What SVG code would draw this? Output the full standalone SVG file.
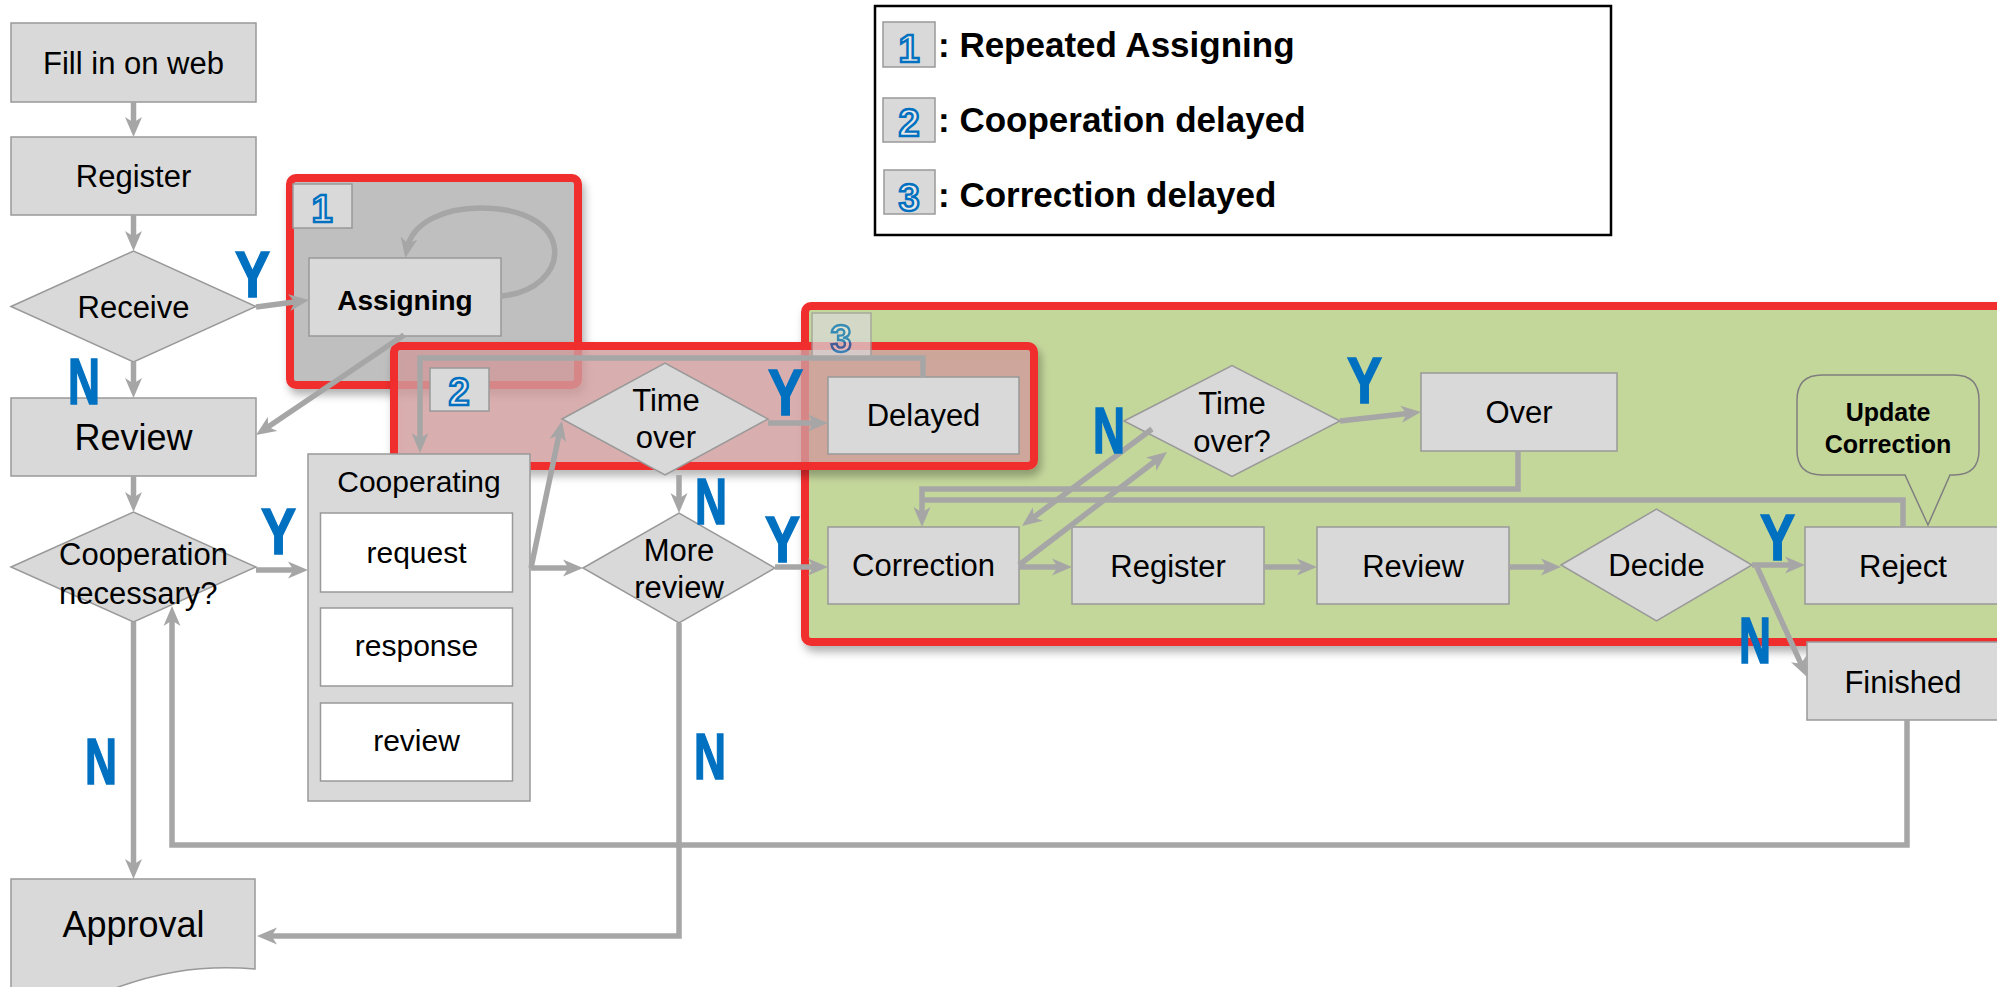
<svg xmlns="http://www.w3.org/2000/svg" width="1997" height="987" viewBox="0 0 1997 987">
<style>
text{font-family:"Liberation Sans",Arial,sans-serif;fill:#000}
.n{fill:#d9d9d9;stroke:#999;stroke-width:1.5}
.w{fill:#fff;stroke:#999;stroke-width:1.5}
.t{font-size:31px;text-anchor:middle}
.big{font-size:36px;text-anchor:middle}
.yn{font-size:65px;font-weight:bold;fill:#0070c0;stroke:#0070c0;stroke-width:1.6}
.bd{fill:#d9d9d9;stroke:#999;stroke-width:1.5}
.dg{font-size:38px;font-weight:bold;fill:#e8e8e8;stroke:#0070c0;stroke-width:2.4;text-anchor:middle}
.red{stroke:#f02d2d;stroke-width:8}
.c{fill:none;stroke:#a6a6a6;stroke-width:5.5;marker-end:url(#ah)}
.c0{fill:none;stroke:#a6a6a6;stroke-width:5.5}
.lg{font-size:35px;font-weight:bold}
</style>
<defs>
<marker id="ah" viewBox="0 0 20 18" refX="11" refY="9" markerWidth="20" markerHeight="18" markerUnits="userSpaceOnUse" orient="auto">
<path d="M0,0.5 L20,9 L0,17.5 L5.5,9 Z" fill="#a6a6a6"/>
</marker>
<filter id="sh" x="-5%" y="-10%" width="112%" height="130%">
<feDropShadow dx="3" dy="6" stdDeviation="4" flood-color="#000" flood-opacity="0.3"/>
</filter>
</defs>
<rect width="1997" height="987" fill="#fff"/>

<!-- legend -->
<g id="legend">
<rect x="875" y="6" width="736" height="229" fill="#fff" stroke="#000" stroke-width="2.5"/>
<rect class="bd" x="883" y="22" width="52" height="45"/>
<text class="dg" x="909" y="62">1</text>
<text class="lg" x="938" y="57">: Repeated Assigning</text>
<rect class="bd" x="883" y="98" width="52" height="44"/>
<text class="dg" x="909" y="136">2</text>
<text class="lg" x="938" y="132">: Cooperation delayed</text>
<rect class="bd" x="884" y="170" width="51" height="44"/>
<text class="dg" x="909" y="211">3</text>
<text class="lg" x="938" y="207">: Correction delayed</text>
</g>

<!-- group 1 -->
<g id="box1">
<rect x="290" y="178" width="288" height="207" rx="6" fill="#bfbfbf" class="red" filter="url(#sh)"/>
<rect class="bd" x="293" y="184" width="59" height="44"/>
<text class="dg" x="322" y="222">1</text>
</g>

<!-- group 3 -->
<g id="box3">
<rect x="805" y="306" width="1200" height="336" rx="6" fill="#c4d79b" class="red" filter="url(#sh)"/>
</g>

<!-- group 2 -->
<g id="box2">
<rect x="394" y="346" width="640" height="120" rx="6" fill="rgb(215,160,160)" fill-opacity="0.75" stroke="#f02d2d" stroke-width="8" filter="url(#sh)"/>
<rect class="bd" x="430" y="368" width="59" height="43"/>
<text class="dg" x="459" y="405">2</text>
</g>

<g id="badge3" opacity="0.72">
<rect class="bd" x="812" y="313" width="59" height="44"/>
<text class="dg" x="841" y="352">3</text>
</g>

<!-- nodes -->
<g id="fill"><rect class="n" x="11" y="23" width="245" height="79"/><text class="t" x="133.5" y="74">Fill in on web</text></g>
<g id="register1"><rect class="n" x="11" y="137" width="245" height="78"/><text class="t" x="133.5" y="187">Register</text></g>
<g id="receive"><path class="n" d="M11,306.5 L133.5,251 L256,306.5 L133.5,362 Z"/><text class="t" x="133.5" y="318">Receive</text></g>
<g id="review1"><rect class="n" x="11" y="398" width="245" height="78"/><text class="big" x="133.5" y="450">Review</text></g>
<g id="coopnec"><path class="n" d="M11,567 L133.5,512 L256,567 L133.5,622 Z"/><text class="t" x="59" y="565" style="text-anchor:start">Cooperation</text><text class="t" x="59" y="604" style="text-anchor:start">necessary?</text></g>
<g id="approval"><path class="n" d="M11,879 H255 V969 C195,964 150,975 110,990 L11,990 Z"/><text class="big" x="133.5" y="937">Approval</text></g>
<g id="assigning"><rect class="n" x="309" y="258" width="192" height="78"/><text class="t" x="405" y="310" style="font-weight:bold;font-size:28px">Assigning</text></g>
<g id="cooperating">
<rect class="n" x="308" y="454" width="222" height="347"/>
<text class="t" x="419" y="492" style="font-size:30px">Cooperating</text>
<rect class="w" x="320.5" y="513" width="192" height="79"/><text class="t" x="416.5" y="563" style="font-size:30px">request</text>
<rect class="w" x="320.5" y="608" width="192" height="78"/><text class="t" x="416.5" y="656" style="font-size:30px">response</text>
<rect class="w" x="320.5" y="703" width="192" height="78"/><text class="t" x="416.5" y="751" style="font-size:30px">review</text>
</g>
<g id="timeover1"><path class="n" d="M562,419 L665,363 L768,419 L665,475 Z"/><text class="t" x="666" y="411">Time</text><text class="t" x="666" y="448">over</text></g>
<g id="delayed"><rect class="n" x="828" y="377" width="191" height="77"/><text class="t" x="923.5" y="426">Delayed</text></g>
<g id="morereview"><path class="n" d="M583,568 L679,513 L775,568 L679,623 Z"/><text class="t" x="679" y="561">More</text><text class="t" x="679" y="598">review</text></g>
<g id="correction"><rect class="n" x="828" y="527" width="191" height="77"/><text class="t" x="923.5" y="576">Correction</text></g>
<g id="timeover2"><path class="n" d="M1124,421 L1232,365.5 L1340,421 L1232,476.5 Z"/><text class="t" x="1232" y="414">Time</text><text class="t" x="1232" y="452">over?</text></g>
<g id="over"><rect class="n" x="1421" y="373" width="196" height="78"/><text class="t" x="1519" y="423">Over</text></g>
<g id="register2"><rect class="n" x="1072" y="527" width="192" height="77"/><text class="t" x="1168" y="577">Register</text></g>
<g id="review2"><rect class="n" x="1317" y="527" width="192" height="77"/><text class="t" x="1413" y="577">Review</text></g>
<g id="decide"><path class="n" d="M1561,565 L1656.5,509 L1752,565 L1656.5,621 Z"/><text class="t" x="1656.5" y="576">Decide</text></g>
<g id="reject"><rect class="n" x="1805" y="527" width="200" height="77"/><text class="t" x="1903" y="577">Reject</text></g>
<g id="finished"><rect class="n" x="1807" y="642" width="200" height="78"/><text class="t" x="1903" y="693">Finished</text></g>
<g id="callout"><path d="M1822,375 H1954 Q1979,375 1979,400 V450 Q1979,475 1954,475 H1950 L1928,525 L1905,475 H1822 Q1797,475 1797,450 V400 Q1797,375 1822,375 Z" fill="#c4d79b" stroke="#7f7f7f" stroke-width="1.5"/>
<text x="1888" y="421" style="font-size:25px;font-weight:bold;text-anchor:middle">Update</text>
<text x="1888" y="453" style="font-size:25px;font-weight:bold;text-anchor:middle">Correction</text></g>

<!-- connectors -->
<g id="connectors">
<path class="c" d="M133.5,102 V128"/>
<path class="c" d="M133.5,215 V242"/>
<path class="c" d="M133.5,362 V389"/>
<path class="c" d="M256,307 L300.1,301.2"/>
<path class="c" d="M501,296 C572,290 580,208 480,208 C445,208 412,222 407,249"/>
<path class="c" d="M404,335 L263.5,430"/>
<path class="c" d="M133.5,476 V503"/>
<path class="c" d="M256,570 H299"/>
<path class="c" d="M133.5,622 V870"/>
<path class="c" d="M531,568 H574"/>
<path class="c" d="M531,568 L560.1,429.8"/>
<path class="c" d="M768,423 H819"/>
<path class="c" d="M679,475 V504"/>
<path class="c" d="M923,377 V358 H420 V444"/>
<path class="c" d="M775,567 H819"/>
<path class="c" d="M679,623 V936 H266"/>
<path class="c" d="M1019,567 H1063"/>
<path class="c" d="M1019,565 L1159.9,457.5"/>
<path class="c" d="M1152,429 L1029.2,520.6"/>
<path class="c" d="M1340,421 L1412.1,413"/>
<path class="c" d="M1518,451 V489 H922 V518"/>
<path class="c0" d="M1903,527 V500 H920"/>
<path class="c" d="M1264,567 H1308"/>
<path class="c" d="M1509,567 H1552"/>
<path class="c" d="M1752,565 H1796"/>
<path class="c" d="M1757,567 L1803.3,668.8"/>
<path class="c" d="M1907,720 V845 H172 V615"/>
</g>

<!-- Y/N labels -->
<g id="labels">
<text class="yn" x="235" y="297" textLength="35" lengthAdjust="spacingAndGlyphs">Y</text>
<text class="yn" x="68" y="404" textLength="32" lengthAdjust="spacingAndGlyphs">N</text>
<text class="yn" x="261" y="554" textLength="35" lengthAdjust="spacingAndGlyphs">Y</text>
<text class="yn" x="85" y="784" textLength="32" lengthAdjust="spacingAndGlyphs">N</text>
<text class="yn" x="768" y="415" textLength="35" lengthAdjust="spacingAndGlyphs">Y</text>
<text class="yn" x="695" y="524" textLength="32" lengthAdjust="spacingAndGlyphs">N</text>
<text class="yn" x="765" y="562" textLength="35" lengthAdjust="spacingAndGlyphs">Y</text>
<text class="yn" x="694" y="779" textLength="32" lengthAdjust="spacingAndGlyphs">N</text>
<text class="yn" x="1093" y="453" textLength="32" lengthAdjust="spacingAndGlyphs">N</text>
<text class="yn" x="1347" y="403" textLength="35" lengthAdjust="spacingAndGlyphs">Y</text>
<text class="yn" x="1760" y="560" textLength="35" lengthAdjust="spacingAndGlyphs">Y</text>
<text class="yn" x="1739" y="663" textLength="32" lengthAdjust="spacingAndGlyphs">N</text>
</g>
</svg>
